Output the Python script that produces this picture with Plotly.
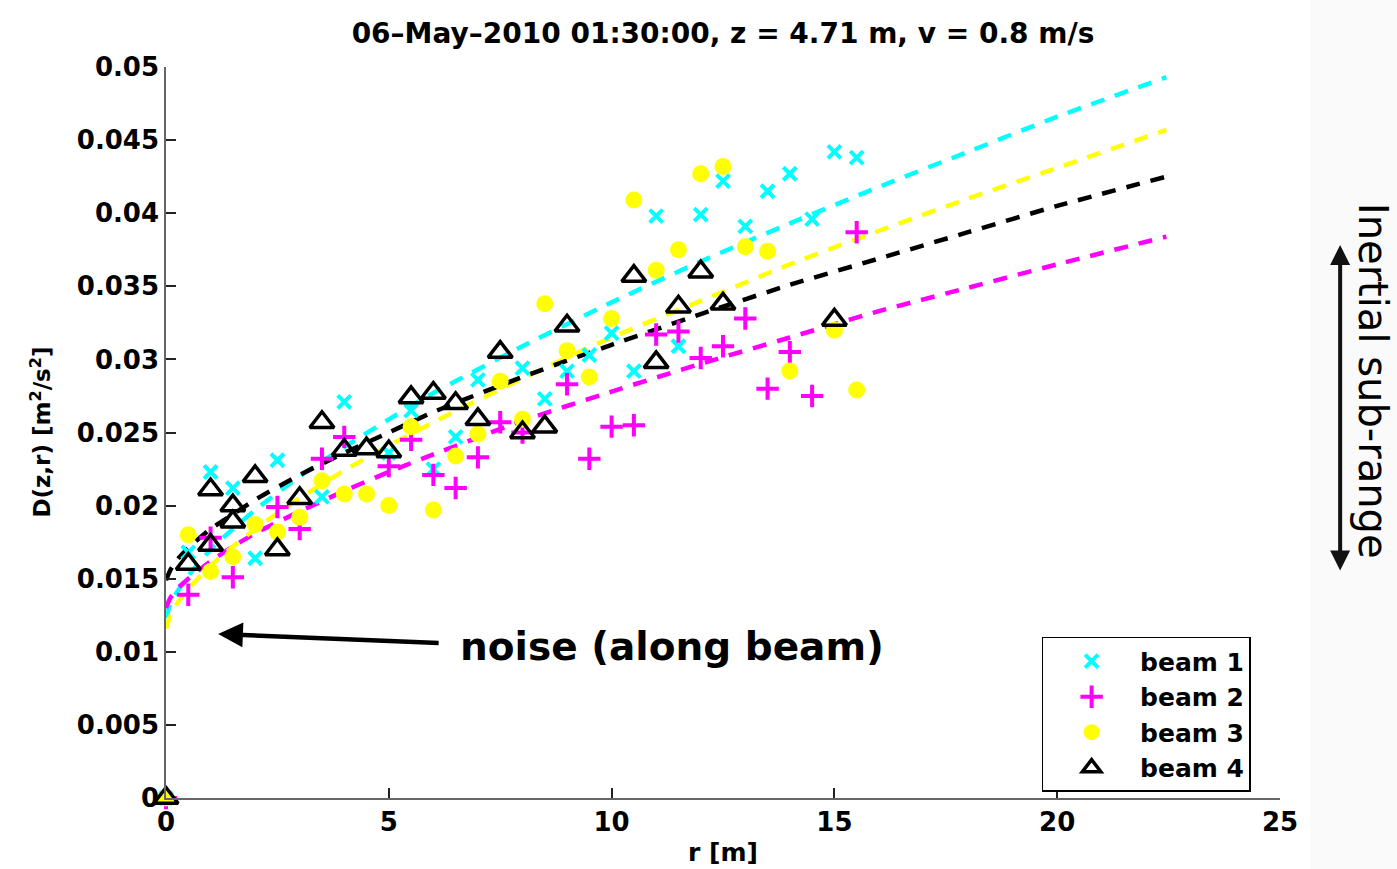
import plotly.graph_objects as go

# scatter data: r [m] and D(z,r) [m^2/s^2]
r_beam1 = [0, 0.5, 1.0, 1.5, 2.0, 2.5, 3.5, 4.0, 5.0, 5.5, 6.0, 6.5, 7.0, 8.0, 8.5, 9.0, 9.5,
           10.0, 10.5, 11.0, 11.5, 12.0, 12.5, 13.0, 13.5, 14.0, 14.5, 15.0, 15.5]
d_beam1 = [0, 0.0168, 0.0223, 0.0212, 0.0164, 0.0231, 0.0206, 0.0271, 0.0236, 0.0265, 0.0225,
           0.0247, 0.0286, 0.0294, 0.0273, 0.0292, 0.0303, 0.0318, 0.0292, 0.0398, 0.0309,
           0.0399, 0.0422, 0.0391, 0.0415, 0.0427, 0.0396, 0.0442, 0.0438]

r_beam2 = [0, 0.5, 1.0, 1.5, 2.5, 3.0, 3.5, 4.0, 5.0, 5.5, 6.0, 6.5, 7.0, 7.5, 8.0, 9.0, 9.5,
           10.0, 10.5, 11.0, 11.5, 12.0, 12.5, 13.0, 13.5, 14.0, 14.5, 15.5]
d_beam2 = [0, 0.0139, 0.0178, 0.0151, 0.0199, 0.0184, 0.0232, 0.0247, 0.0227, 0.0245, 0.0221,
           0.0212, 0.0233, 0.0257, 0.0250, 0.0283, 0.0232, 0.0254, 0.0255, 0.0317, 0.0319,
           0.0301, 0.0309, 0.0328, 0.0280, 0.0305, 0.0275, 0.0387]

r_beam3 = [0, 0.5, 1.0, 1.5, 2.0, 2.5, 3.0, 3.5, 4.0, 4.5, 5.0, 5.5, 6.0, 6.5, 7.0, 7.5, 8.0,
           8.5, 9.0, 9.5, 10.0, 10.5, 11.0, 11.5, 12.0, 12.5, 13.0, 13.5, 14.0, 15.0, 15.5]
d_beam3 = [0, 0.0180, 0.0155, 0.0165, 0.0187, 0.0182, 0.0192, 0.0217, 0.0208, 0.0208, 0.0200,
           0.0254, 0.0197, 0.0234, 0.0249, 0.0285, 0.0259, 0.0338, 0.0306, 0.0288, 0.0328,
           0.0409, 0.0361, 0.0375, 0.0427, 0.0432, 0.0377, 0.0374, 0.0292, 0.0320, 0.0279]

r_beam4 = [0, 0.5, 1.0, 1.0, 1.5, 1.5, 2.0, 2.5, 3.0, 3.5, 4.0, 4.5, 5.0, 5.5, 6.0, 6.5, 7.0,
           7.5, 8.0, 8.5, 9.0, 10.5, 11.0, 11.5, 12.0, 12.5, 15.0]
d_beam4 = [0, 0.0160, 0.0173, 0.0211, 0.0189, 0.0200, 0.0220, 0.0170, 0.0205, 0.0257, 0.0238,
           0.0239, 0.0237, 0.0274, 0.0277, 0.0270, 0.0259, 0.0305, 0.0250, 0.0254, 0.0323,
           0.0357, 0.0298, 0.0336, 0.0360, 0.0338, 0.0327]

# dashed fit curves, values read at these r positions
r_fit = [0, 0.1, 0.25, 0.5, 1, 1.5, 2, 3, 4, 5, 6, 8, 10, 12, 14, 16, 18, 20, 22.45]
fit_beam1 = [0.0123, 0.0133, 0.0141, 0.0152, 0.0170, 0.0184, 0.0197, 0.0220, 0.0240, 0.0259,
             0.0277, 0.0309, 0.0339, 0.0367, 0.0393, 0.0418, 0.0442, 0.0466, 0.0493]
fit_beam2 = [0.0130, 0.0137, 0.0143, 0.0150, 0.0162, 0.0172, 0.0181, 0.0196, 0.0210, 0.0223,
             0.0235, 0.0258, 0.0278, 0.0297, 0.0315, 0.0333, 0.0349, 0.0365, 0.0384]
fit_beam3 = [0.0116, 0.0125, 0.0133, 0.0143, 0.0159, 0.0172, 0.0184, 0.0205, 0.0224, 0.0241,
             0.0257, 0.0287, 0.0315, 0.0340, 0.0365, 0.0388, 0.0410, 0.0431, 0.0457]
fit_beam4 = [0.0149, 0.0156, 0.0163, 0.0171, 0.0184, 0.0194, 0.0204, 0.0221, 0.0236, 0.0250,
             0.0264, 0.0288, 0.0310, 0.0331, 0.0351, 0.0369, 0.0387, 0.0405, 0.0425]

x_ticks = [0, 5, 10, 15, 20, 25]
y_ticks = [0, 0.005, 0.01, 0.015, 0.02, 0.025, 0.03, 0.035, 0.04, 0.045, 0.05]
y_tick_text = ["0", "0.005", "0.01", "0.015", "0.02", "0.025", "0.03", "0.035", "0.04", "0.045", "0.05"]

CYAN = "#00FFFF"
MAGENTA = "#FF00FF"
YELLOW = "#FFFF00"
BLACK = "#000000"
FONT = "DejaVu Sans, Liberation Sans, sans-serif"

fig = go.Figure()

# fits first so markers sit on top
for yv, col in [(fit_beam1, CYAN), (fit_beam2, MAGENTA), (fit_beam3, YELLOW), (fit_beam4, BLACK)]:
    fig.add_trace(go.Scatter(
        x=r_fit, y=yv, mode="lines", showlegend=False, hoverinfo="skip",
        line=dict(color=col, width=4.5, dash="14px,11px", shape="spline", smoothing=0.6),
    ))

fig.add_trace(go.Scatter(
    x=r_beam1, y=d_beam1, mode="markers", name="beam 1", cliponaxis=False,
    marker=dict(symbol="x-thin", size=13, color=CYAN, line=dict(color=CYAN, width=4)),
))
fig.add_trace(go.Scatter(
    x=r_beam2, y=d_beam2, mode="markers", name="beam 2", cliponaxis=False,
    marker=dict(symbol="cross-thin", size=16, color=MAGENTA, line=dict(color=MAGENTA, width=4)),
))
fig.add_trace(go.Scatter(
    x=r_beam3, y=d_beam3, mode="markers", name="beam 3", cliponaxis=False,
    marker=dict(symbol="circle", size=17, color=YELLOW, line=dict(width=0)),
))
fig.add_trace(go.Scatter(
    x=r_beam4, y=d_beam4, mode="markers", name="beam 4", cliponaxis=False,
    marker=dict(symbol="triangle-up-open", size=21, color=BLACK, line=dict(color=BLACK, width=3.5)),
))

fig.update_layout(
    width=1397, height=869,
    margin=dict(l=166, r=117, t=67, b=71),
    paper_bgcolor="white", plot_bgcolor="white",
    font=dict(family=FONT, color="black", weight="bold"),
    title=dict(
        text="06–May–2010 01:30:00, z = 4.71 m, v = 0.8 m/s",
        font=dict(size=28, family=FONT, weight="bold"),
        x=0.5, xref="paper", xanchor="center", y=0.962, yanchor="middle",
    ),
    xaxis=dict(
        range=[0, 25], tickvals=x_ticks, ticks="inside", ticklen=10, tickwidth=1.5,
        tickcolor="#222222", showline=True, linecolor="#666666", linewidth=1.5,
        showgrid=False, zeroline=False, mirror=False, automargin=False,
        tickfont=dict(size=26, family=FONT, weight="bold"),
        title=dict(text="r [m]", font=dict(size=25, family=FONT, weight="bold"), standoff=8),
    ),
    yaxis=dict(
        range=[0, 0.05], tickvals=y_ticks, ticktext=y_tick_text, ticks="inside", ticklen=10,
        tickwidth=1.5, tickcolor="#222222", showline=True, linecolor="#666666", linewidth=1.5,
        showgrid=False, zeroline=False, mirror=False, automargin=False,
        tickfont=dict(size=26, family=FONT, weight="bold"),
    ),
    legend=dict(
        x=0.786, y=0.2203, xanchor="left", yanchor="top",
        bgcolor="white", bordercolor="black", borderwidth=1.5,
        font=dict(size=25, family=FONT, weight="bold"),
        itemwidth=87, tracegroupgap=0,
    ),
    showlegend=True,
)

# y axis title placed as an annotation to sit where the reference has it
fig.add_annotation(
    x=-0.113, y=0.5, xref="paper", yref="paper", xanchor="center", yanchor="middle",
    text="D(z,r) [m<sup>2</sup>/s<sup>2</sup>]", textangle=-90, showarrow=False,
    font=dict(size=23, family=FONT, weight="bold", color="black"),
)

# faint strip at the right edge of the slide
fig.add_shape(type="rect", xref="paper", yref="paper", x0=1.027, x1=1.11, y0=-0.1, y1=1.1,
              fillcolor="#fafafa", line=dict(width=0), layer="below")

# noise arrow and label
fig.add_annotation(
    x=1.17, y=0.01122, xref="x", yref="y", ax=222, ay=9, axref="pixel", ayref="pixel",
    text="", showarrow=True, arrowhead=2, arrowsize=1.1, arrowwidth=4.5, arrowcolor="#000000",
)
fig.add_annotation(
    x=6.55, y=0.01033, xref="x", yref="y", xanchor="left", yanchor="middle",
    text="noise (along beam)", showarrow=False,
    font=dict(size=39, family=FONT, weight="bold", color="black"),
)

# inertial sub-range bracket
fig.add_annotation(
    x=1.054, y=0.7565, xref="paper", yref="paper", ax=0, ay=327, axref="pixel", ayref="pixel",
    text="", showarrow=True, arrowhead=2, arrowside="end+start", arrowsize=1.0,
    arrowwidth=4, arrowcolor="#111111",
)
fig.add_annotation(
    x=1.083, y=0.570, xref="paper", yref="paper", xanchor="center", yanchor="middle",
    text="Inertial sub-range", textangle=90, showarrow=False,
    font=dict(size=40, family=FONT, weight="normal", color="black"),
)

fig.write_html("out.html", config={"displayModeBar": False},
               post_script="document.body.style.margin='0px';")
